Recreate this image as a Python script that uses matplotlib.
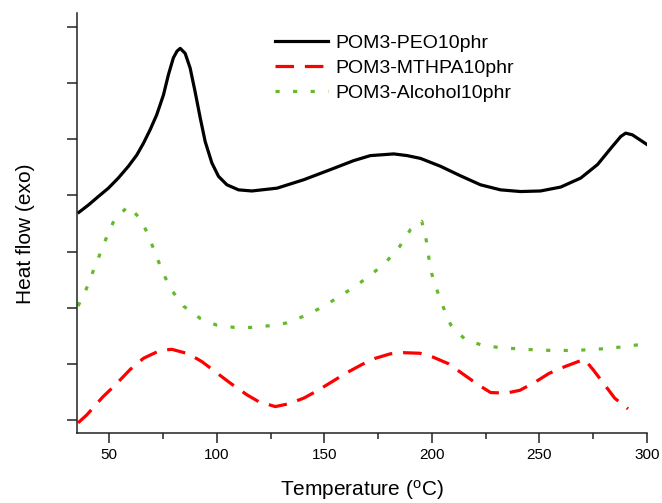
import matplotlib
matplotlib.use('Agg')
import matplotlib.pyplot as plt
import numpy as np

plt.rcParams['font.family'] = ['Liberation Sans', 'DejaVu Sans']
plt.rcParams['mathtext.default'] = 'regular'

# DSC traces (temperature in C, heat flow in arbitrary units)
peo_t = [35.9, 40.3, 44.9, 49.6, 54.2, 58.9, 62.8, 65.9, 69.0, 72.1, 75.2, 77.5, 79.8,
         81.5, 83.0, 85.3, 87.6, 89.9, 92.3, 94.6, 97.7, 100.8, 104.7, 110.1, 116.3, 128.0,
         140.4, 152.8, 163.6, 171.4, 182.3, 188.5, 194.7, 204.0, 213.3, 222.6, 231.9,
         241.2, 250.5, 259.9, 269.2, 277.0, 283.2, 287.8, 290.1, 293.2, 299.9]
peo_hf = [3.70, 3.83, 3.98, 4.13, 4.31, 4.52, 4.72, 4.93, 5.17, 5.44, 5.79, 6.15, 6.45,
          6.57, 6.62, 6.53, 6.27, 5.85, 5.38, 4.96, 4.58, 4.34, 4.19, 4.10, 4.08, 4.13,
          4.28, 4.46, 4.62, 4.71, 4.74, 4.71, 4.66, 4.52, 4.35, 4.19, 4.10,
          4.07, 4.08, 4.15, 4.31, 4.55, 4.84, 5.05, 5.11, 5.08, 4.91]

mthpa_t = [35.5, 39.5, 47.2, 52.7, 59.7, 65.9, 73.6, 79.1, 86.8, 93.1, 100.0, 106.2,
           114.0, 119.4, 127.2, 133.4, 140.4, 146.6, 154.3, 159.8, 167.5, 173.7, 180.7,
           186.9, 194.4, 200.6, 207.9, 214.1, 221.1, 227.3, 234.6, 240.9, 248.2, 254.4,
           261.7, 267.9, 271.0, 274.9, 279.3, 285.0, 291.2]
mthpa_hf = [-0.05, 0.09, 0.42, 0.62, 0.90, 1.10, 1.24, 1.26, 1.18, 1.04, 0.84, 0.66,
            0.45, 0.33, 0.24, 0.29, 0.39, 0.52, 0.70, 0.83, 0.99, 1.10, 1.18,
            1.20, 1.19, 1.12, 1.00, 0.83, 0.64, 0.49, 0.48, 0.53, 0.68, 0.83,
            0.95, 1.04, 1.08, 0.90, 0.68, 0.39, 0.20]

alcohol_t = [35.5, 39.5, 42.6, 45.7, 48.8, 52.4, 58.9, 64.8, 68.5, 71.5, 74.6, 78.3,
             84.5, 92.3, 100.0, 108.2, 116.3, 124.4, 132.6, 140.4, 148.5, 156.6, 164.7,
             170.3, 177.9, 185.0, 190.0, 195.3, 197.3, 198.5, 199.9, 202.5, 205.3, 208.7,
             215.6, 223.7, 231.6, 239.7, 247.8, 255.7, 263.7, 271.8, 279.6, 287.8, 295.8,
             299.5]
alcohol_hf = [2.03, 2.35, 2.66, 2.96, 3.26, 3.57, 3.81, 3.57, 3.26, 2.96, 2.66, 2.35,
              2.03, 1.81, 1.69, 1.65, 1.65, 1.68, 1.73, 1.85, 2.00, 2.19, 2.39,
              2.55, 2.78, 3.09, 3.39, 3.54, 3.22, 2.91, 2.61, 2.30, 2.01, 1.70,
              1.43, 1.33, 1.29, 1.27, 1.25, 1.24, 1.24, 1.25, 1.27, 1.30, 1.34,
              1.36]

labels = ['POM3-PEO10phr', 'POM3-MTHPA10phr', 'POM3-Alcohol10phr']

fig = plt.figure(figsize=(6.62, 5.03), dpi=100)
ax = fig.add_axes([0.1163, 0.1392, 0.861, 0.835])

ax.plot(peo_t, peo_hf, color='black', lw=2.3, label=labels[0])
ax.plot(mthpa_t, mthpa_hf, color='#ff0000', lw=2.3, dashes=(5.8, 3.4), label=labels[1])
ax.plot(alcohol_t, alcohol_hf, color='#66b82c', lw=2.3, dashes=(1.3, 4.2), label=labels[2])

ax.set_xlim(35, 300)
ax.set_ylim(-0.23, 7.25)
ax.set_xticks([50, 100, 150, 200, 250, 300])
ax.set_xticks([75, 125, 175, 225, 275], minor=True)
ax.set_yticks(np.arange(0, 8))
ax.set_yticklabels([])

for side in ['top', 'right']:
    ax.spines[side].set_visible(False)
for side in ['left', 'bottom']:
    ax.spines[side].set_linewidth(1.1)
    ax.spines[side].set_color('#222222')

ax.tick_params(axis='x', which='major', direction='out', length=7, width=1.1,
               labelsize=11, pad=4, color='#222222')
ax.tick_params(axis='x', which='minor', direction='out', length=4, width=1.1, color='#222222')
ax.tick_params(axis='y', which='major', direction='out', length=7, width=1.1, color='#222222')

ax.set_xlabel('Temperature ($^{o}$C)', fontsize=15)
ax.set_ylabel('Heat flow (exo)', fontsize=15)
ax.xaxis.set_label_coords(0.5, -0.108)
ax.yaxis.set_label_coords(-0.074, 0.474)

ax.legend(loc='upper left', bbox_to_anchor=(275 / 662, 1 - 34 / 503), bbox_transform=fig.transFigure,
          frameon=False, fontsize=14, handlelength=2.75, handletextpad=0.35, labelspacing=0.38,
          borderaxespad=0, borderpad=0)

fig.savefig('out.png', dpi=100)
